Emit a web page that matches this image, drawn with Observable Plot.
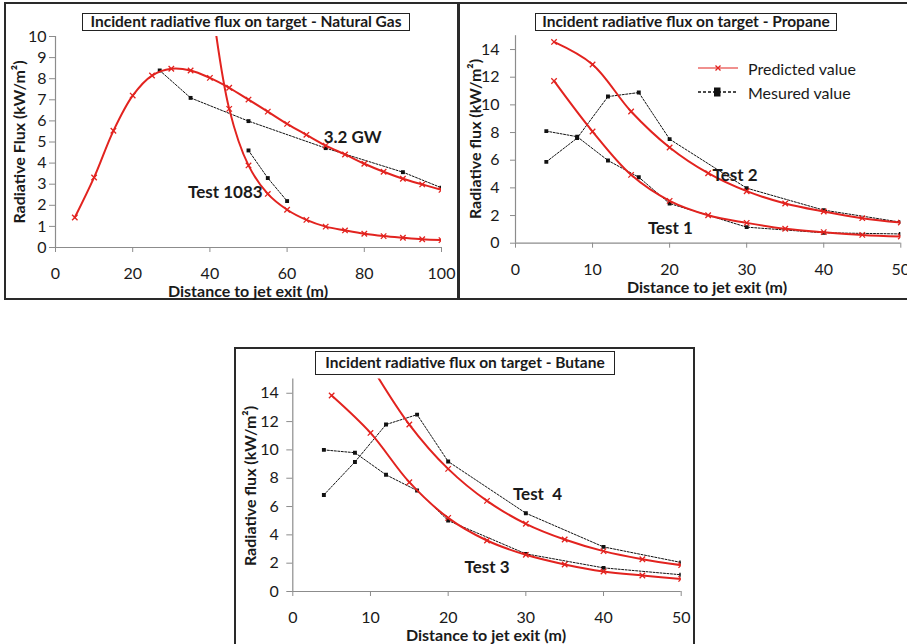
<!DOCTYPE html>
<html>
<head>
<meta charset="utf-8">
<script src="https://cdn.jsdelivr.net/npm/d3@7"></script>
<script src="https://cdn.jsdelivr.net/npm/@observablehq/plot@0.6"></script>
<style>
  html, body { margin: 0; padding: 0; background: #fff; }
  #root { position: relative; width: 907px; height: 644px; overflow: hidden; font-family: Lato, "Open Sans", sans-serif; color: #1a1a1a; }
  .box { position: absolute; border: 2px solid #2a2a2a; box-sizing: border-box; }
  .title { position: absolute; border: 1.5px solid #222; background: #fff; box-sizing: border-box; font-weight: bold; font-size: 15.5px; text-align: center; white-space: nowrap; }
  .xt { position: absolute; transform: translate(-50%, -50%); font-weight: bold; font-size: 16px; white-space: nowrap; }
  .yt { position: absolute; transform: translate(-50%, -50%) rotate(-90deg); font-weight: bold; font-size: 16px; white-space: nowrap; }
  .leg { position: absolute; font-size: 16px; white-space: nowrap; transform: translateY(-50%); }
</style>
</head>
<body>
<div id="root"></div>
<script>
// ---------------- DATA ----------------
// Natural gas
const ngPredDist = [5, 10, 15, 20, 25, 30, 35, 40, 45, 50, 55, 60, 65, 70, 75, 80, 85, 90, 95, 100];
const ngPred32 = [1.42, 3.32, 5.53, 7.2, 8.15, 8.47, 8.39, 8.04, 7.57, 7.01, 6.44, 5.86, 5.34, 4.83, 4.41, 3.97, 3.59, 3.26, 2.99, 2.73];
const ngPred1083Dist = [40, 45, 50, 55, 60, 65, 70, 75, 80, 85, 90, 95, 100];
const ngPred1083 = [12.3, 6.57, 3.89, 2.54, 1.79, 1.31, 0.99, 0.81, 0.65, 0.54, 0.46, 0.39, 0.35];
const ngMeas32Dist = [27, 35, 50, 70, 90, 100];
const ngMeas32 = [8.39, 7.09, 5.99, 4.71, 3.57, 2.83];
const ngMeas1083Dist = [50, 55, 60];
const ngMeas1083 = [4.6, 3.29, 2.2];
const ngXTicks = [0, 20, 40, 60, 80, 100];
const ngYTicks = [0, 1, 2, 3, 4, 5, 6, 7, 8, 9, 10];

// Propane
const prPredDist = [5, 10, 15, 20, 25, 30, 35, 40, 45, 50];
const prPredTest2 = [14.55, 12.92, 9.52, 6.92, 5.06, 3.76, 2.87, 2.29, 1.81, 1.49];
const prPredTest1 = [11.73, 8.07, 4.94, 3.06, 2.02, 1.47, 1.04, 0.8, 0.6, 0.48];
const prMeasDist = [4, 8, 12, 16, 20, 30, 40, 50];
const prMeasTest2 = [5.88, 7.6, 10.6, 10.89, 7.52, 3.98, 2.39, 1.52];
const prMeasTest1 = [8.1, 7.7, 5.98, 4.77, 2.87, 1.16, 0.75, 0.67];

// Butane
const buPredTest4Dist = [10, 15, 20, 25, 30, 35, 40, 45, 50];
const buPredTest4 = [16.0, 11.79, 8.66, 6.4, 4.78, 3.67, 2.85, 2.28, 1.86];
const buPredTest3Dist = [5, 10, 15, 20, 25, 30, 35, 40, 45, 50];
const buPredTest3 = [13.84, 11.2, 7.72, 5.2, 3.6, 2.59, 1.91, 1.41, 1.13, 0.89];
const buMeasDist = [4, 8, 12, 16, 20, 30, 40, 50];
const buMeasTest4 = [6.82, 9.15, 11.79, 12.49, 9.18, 5.53, 3.15, 2.05];
const buMeasTest3 = [10.0, 9.8, 8.24, 7.13, 5.01, 2.66, 1.67, 1.18];

const lpXTicks = [0, 10, 20, 30, 40, 50];
const lpYTicks = [0, 2, 4, 6, 8, 10, 12, 14];

const titles = [
  "Incident radiative flux on target - Natural Gas",
  "Incident radiative flux on target - Propane",
  "Incident radiative flux on target - Butane"
];
const xTitle = "Distance to jet exit (m)";
const yTitleNG = "Radiative Flux (kW/m\u00B2)";
const yTitleLP = "Radiative flux (kW/m\u00B2)";
const legendLabels = ["Predicted value", "Mesured value"];

// annotation labels (anchored in data units)
const ngLabels = [{text: "3.2 GW", x: 77, y: 5.2}, {text: "Test 1083", x: 44, y: 2.6}];
const prLabels = [{text: "Test 2", x: 28.5, y: 4.9}, {text: "Test 1", x: 20.1, y: 1.06}];
const buLabels = [{text: "Test  4", x: 31.5, y: 6.85}, {text: "Test 3", x: 25.0, y: 1.7}];

// ---------------- DRAW ----------------
const RED = "#e2231f";
const AXIS = "#8c8c8c";
const INK = "#1a1a1a";
const FONT = "Lato, 'Open Sans', sans-serif";

function predicted(xs, ys) {
  return [
    Plot.line(xs, {x: xs, y: ys, curve: "catmull-rom", stroke: RED, strokeWidth: 2, clip: true}),
    Plot.dot(xs, {x: xs, y: ys, symbol: "times", r: 2.6, stroke: RED, strokeWidth: 1.3, clip: true})
  ];
}
function measured(xs, ys) {
  return [
    Plot.line(xs, {x: xs, y: ys, stroke: "#111", strokeWidth: 1, strokeDasharray: "2,1.5", clip: true}),
    Plot.dot(xs, {x: xs, y: ys, symbol: "square", r: 2.2, fill: "#111", stroke: "none", clip: true})
  ];
}

function panel(o) {
  const plot = Plot.plot({
    width: o.width, height: o.height,
    marginLeft: o.ml, marginRight: o.mr, marginTop: o.mt, marginBottom: o.mb,
    x: {domain: o.xDomain},
    y: {domain: o.yDomain},
    style: {fontFamily: FONT, fontSize: "16px", color: INK, background: "transparent", overflow: "visible"},
    marks: [
      Plot.ruleY([o.yDomain[0]], {stroke: AXIS, strokeWidth: 1.2}),
      Plot.ruleX([o.xDomain[0]], {stroke: AXIS, strokeWidth: 1.2}),
      Plot.axisX({ticks: o.xTicks, tickSize: 5, tickPadding: 15, stroke: AXIS, fill: INK, label: null, tickFormat: d => String(d)}),
      Plot.axisY({ticks: o.yTicks, tickSize: o.yTickSize, tickPadding: o.yTickPad, stroke: AXIS, fill: INK, label: null, tickFormat: d => String(d)}),
      ...o.marks,
      Plot.text(o.labels, {x: "x", y: "y", text: "text", fontWeight: "bold", fontSize: 17, fill: INK})
    ]
  });
  plot.style.position = "absolute";
  plot.style.left = o.left + "px";
  plot.style.top = o.top + "px";
  return plot;
}

const root = document.getElementById("root");
function addDiv(cls, text, css) {
  const d = document.createElement("div");
  d.className = cls;
  if (text != null) d.textContent = text;
  Object.assign(d.style, css);
  root.appendChild(d);
  return d;
}

// frames
addDiv("box", null, {left: "4px", top: "2px", width: "456px", height: "298px"});
addDiv("box", null, {left: "457px", top: "2px", width: "460px", height: "298px", borderLeftWidth: "3px"});
addDiv("box", null, {left: "234px", top: "347px", width: "461px", height: "310px"});

// Natural gas panel
root.appendChild(panel({
  left: 5, top: 3, width: 450, height: 296, ml: 50, mr: 14, mt: 33, mb: 52,
  xDomain: [0, 100], yDomain: [0, 10], xTicks: ngXTicks, yTicks: ngYTicks, yTickSize: 6, yTickPad: 3,
  labels: ngLabels,
  marks: [
    ...measured(ngMeas32Dist, ngMeas32),
    ...measured(ngMeas1083Dist, ngMeas1083),
    ...predicted(ngPredDist, ngPred32),
    ...predicted(ngPred1083Dist, ngPred1083)
  ]
}));

// Propane panel
root.appendChild(panel({
  left: 458, top: 3, width: 449, height: 296, ml: 57, mr: 6.7, mt: 32.2, mb: 56.3,
  xDomain: [0, 50], yDomain: [0, 15], xTicks: lpXTicks, yTicks: lpYTicks, yTickSize: 5, yTickPad: 11,
  labels: prLabels,
  marks: [
    ...measured(prMeasDist, prMeasTest2),
    ...measured(prMeasDist, prMeasTest1),
    ...predicted(prPredDist, prPredTest2),
    ...predicted(prPredDist, prPredTest1)
  ]
}));

// Butane panel
root.appendChild(panel({
  left: 235, top: 348, width: 459, height: 296, ml: 57.3, mr: 13.3, mt: 30.6, mb: 53,
  xDomain: [0, 50], yDomain: [0, 15], xTicks: lpXTicks, yTicks: lpYTicks, yTickSize: 6, yTickPad: 8,
  labels: buLabels,
  marks: [
    ...measured(buMeasDist, buMeasTest4),
    ...measured(buMeasDist, buMeasTest3),
    ...predicted(buPredTest4Dist, buPredTest4),
    ...predicted(buPredTest3Dist, buPredTest3)
  ]
}));

// chart titles
addDiv("title", titles[0], {left: "82px", top: "13px", width: "328px", height: "18px", lineHeight: "15px"});
addDiv("title", titles[1], {left: "535px", top: "13px", width: "302px", height: "18px", lineHeight: "15px"});
addDiv("title", titles[2], {left: "315px", top: "351px", width: "300px", height: "24px", lineHeight: "21px"});

// axis titles
addDiv("xt", xTitle, {left: "248px", top: "290px"});
addDiv("xt", xTitle, {left: "707px", top: "286px"});
addDiv("xt", xTitle, {left: "486px", top: "634px"});
addDiv("yt", yTitleNG, {left: "18px", top: "142px"});
addDiv("yt", yTitleLP, {left: "474px", top: "139px"});
addDiv("yt", yTitleLP, {left: "249px", top: "486px"});

// legend (propane panel)
const legSvg = document.createElementNS("http://www.w3.org/2000/svg", "svg");
legSvg.setAttribute("width", "50"); legSvg.setAttribute("height", "40");
legSvg.style.position = "absolute"; legSvg.style.left = "695px"; legSvg.style.top = "58px";
legSvg.innerHTML =
  '<line x1="3" y1="10" x2="43" y2="10" stroke="' + RED + '" stroke-width="1.2"/>' +
  '<path d="M20.5,7.5L25.5,12.5M25.5,7.5L20.5,12.5" stroke="' + RED + '" stroke-width="1.3"/>' +
  '<line x1="3" y1="34" x2="43" y2="34" stroke="#111" stroke-width="1.3" stroke-dasharray="3,2"/>' +
  '<rect x="19" y="29.5" width="6.5" height="9" fill="#111"/>';
root.appendChild(legSvg);
addDiv("leg", legendLabels[0], {left: "748px", top: "68px"});
addDiv("leg", legendLabels[1], {left: "748px", top: "92px"});
</script>
</body>
</html>
